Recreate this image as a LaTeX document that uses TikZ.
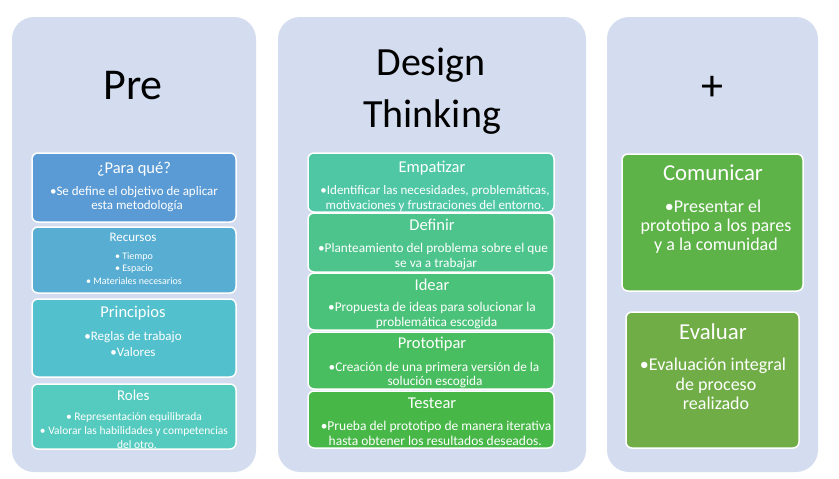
\documentclass[tikz,border=0pt]{standalone}
\usepackage{fontspec}
\setmainfont{Carlito}
\newcommand{\fsz}[1]{\fontsize{#1}{#1}\selectfont}
\definecolor{panelbg}{HTML}{D4DDEF}
\definecolor{cA}{HTML}{5A9BD5}
\definecolor{cB}{HTML}{57AED2}
\definecolor{cC}{HTML}{53C1CD}
\definecolor{cD}{HTML}{55CBC0}
\definecolor{mA}{HTML}{4FC7A5}
\definecolor{mB}{HTML}{4DC48C}
\definecolor{mC}{HTML}{4BC27A}
\definecolor{mD}{HTML}{49BE60}
\definecolor{mE}{HTML}{47B848}
\definecolor{rA}{HTML}{5EB348}
\definecolor{rB}{HTML}{70AD47}
\begin{document}
\begin{tikzpicture}[x=1pt,y=-1pt,
  panel/.style={fill=panelbg, draw=none, rounded corners=22pt},
  itembox/.style={draw=white, line width=1.5pt, rounded corners=6pt},
  ttl/.style={anchor=base, inner sep=0pt, text=black, font=\fsz{44}},
  dttl/.style={anchor=base, inner sep=0pt, text=black, font=\fsz{40}},
  hd/.style={anchor=base, inner sep=0pt, text=white},
  ln/.style={anchor=base, inner sep=0pt, text=white}]
\useasboundingbox (0,0) rectangle (839,479);
\fill[white] (0,0) rectangle (839,479);
% panels
\path[panel] (12,17) rectangle (256,472);
\path[panel] (278,17) rectangle (586,472);
\path[panel] (607,17) rectangle (818,472);
% titles
\node[ttl] (tpre) at (133,99) {Pre};
\node[dttl] (tdes) at (431,75) {Design};
\node[dttl] (tthi) at (432,127) {Thinking};
\node[ttl] (tplus) at (712.5,100) {+};
% left column
\path[itembox, fill=cA] (32,153) rectangle (236,222);
\node[hd, font=\fsz{16.5}] (pqh) at (134,173) {¿Para qué?};
\node[ln, font=\fsz{13}] (pq1) at (134,195) {•Se define el objetivo de aplicar};
\node[ln, font=\fsz{13}] (pq2) at (137,209.5) {esta metodología};
\path[itembox, fill=cB] (32,227) rectangle (236,293);
\node[hd, font=\fsz{13}] (reh) at (133,241.7) {Recursos};
\node[ln, font=\fsz{10}] (re1) at (134,259) {• Tiempo};
\node[ln, font=\fsz{10}] (re2) at (134,271.7) {• Espacio};
\node[ln, font=\fsz{10}] (re3) at (134,284.7) {• Materiales necesarios};
\path[itembox, fill=cC] (32,299) rectangle (236,377);
\node[hd, font=\fsz{16.5}] (prh) at (133,317.7) {Principios};
\node[ln, font=\fsz{13}] (pr1) at (133,340) {•Reglas de trabajo};
\node[ln, font=\fsz{13}] (pr2) at (133,356.7) {•Valores};
\path[itembox, fill=cD] (32,384) rectangle (236,449);
\node[hd, font=\fsz{15}] (roh) at (133.3,400) {Roles};
\node[ln, font=\fsz{11.5}] (ro1) at (134,420) {• Representación equilibrada};
\node[ln, font=\fsz{11.5}] (ro2) at (134,434.7) {• Valorar las habilidades y competencias};
\begin{scope}
\clip (33,385) rectangle (235,448);
\node[ln, font=\fsz{11.5}] (ro3) at (137,448.7) {del otro.};
\end{scope}
% middle column
\path[itembox, fill=mA] (308,153) rectangle (554,212);
\node[hd, font=\fsz{16.5}] (emh) at (432,172.3) {Empatizar};
\node[ln, font=\fsz{13}] (em1) at (435,194) {•Identificar las necesidades, problemáticas,};
\node[ln, font=\fsz{13}] (em2) at (435,209) {motivaciones y frustraciones del entorno.};
\path[itembox, fill=mB] (308,213) rectangle (554,272);
\node[hd, font=\fsz{16.5}] (deh) at (432,230.7) {Definir};
\node[ln, font=\fsz{13.3}] (de1) at (433,252.3) {•Planteamiento del problema sobre el que};
\node[ln, font=\fsz{13.3}] (de2) at (436,267.3) {se va a trabajar};
\path[itembox, fill=mC] (308,273) rectangle (554,330);
\node[hd, font=\fsz{16.5}] (idh) at (432,290.5) {Idear};
\node[ln, font=\fsz{13.3}] (id1) at (432,311) {•Propuesta de ideas para solucionar la};
\node[ln, font=\fsz{13.3}] (id2) at (436.5,326) {problemática escogida};
\path[itembox, fill=mD] (308,332) rectangle (554,389);
\node[hd, font=\fsz{16.5}] (ptph) at (432,348.3) {Prototipar};
\node[ln, font=\fsz{13.3}] (ptp1) at (434,371) {•Creación de una primera versión de la};
\node[ln, font=\fsz{13.3}] (ptp2) at (435,385.7) {solución escogida};
\path[itembox, fill=mE] (308,391) rectangle (554,448);
\node[hd, font=\fsz{16.5}] (teh) at (432,408.3) {Testear};
\node[ln, font=\fsz{13.5}] (te1) at (436,430) {•Prueba del prototipo de manera iterativa};
\node[ln, font=\fsz{13.5}] (te2) at (435.3,445) {hasta obtener los resultados deseados.};
% right column
\path[itembox, fill=rA] (622,154) rectangle (803,291);
\node[hd, font=\fsz{22.8}] (coh) at (713,180.7) {Comunicar};
\node[ln, font=\fsz{18}] (co1) at (713,212.7) {•Presentar el};
\node[ln, font=\fsz{18}] (co2) at (716,231.3) {prototipo a los pares};
\node[ln, font=\fsz{18}] (co3) at (716,250) {y a la comunidad};
\path[itembox, fill=rB] (626,312) rectangle (799,448);
\node[hd, font=\fsz{22.8}] (evh) at (713,339.3) {Evaluar};
\node[ln, font=\fsz{18}] (ev1) at (713,370) {•Evaluación integral};
\node[ln, font=\fsz{18}] (ev2) at (716,390) {de proceso};
\node[ln, font=\fsz{18}] (ev3) at (716,409.3) {realizado};
\end{tikzpicture}
\end{document}
